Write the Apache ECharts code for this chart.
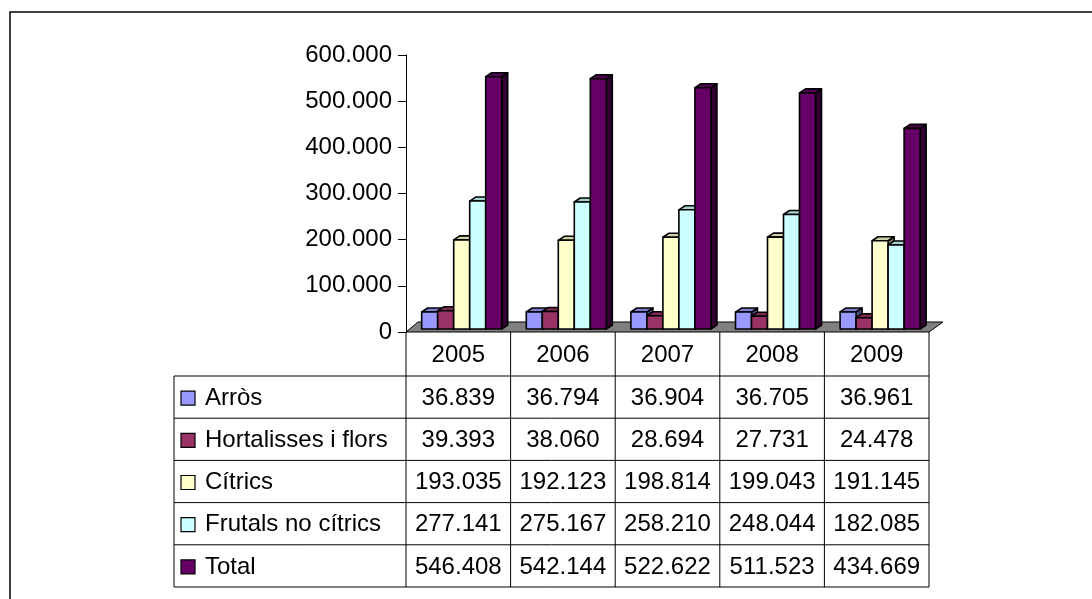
<!DOCTYPE html>
<html>
<head>
<meta charset="utf-8">
<script src="https://cdn.jsdelivr.net/npm/echarts@6/dist/echarts.min.js"></script>
<style>
html,body{margin:0;padding:0;background:#fff;}
#chart{width:1092px;height:599px;}
</style>
</head>
<body>
<div id="chart"></div>
<script>
// ---- data ----
var years = ['2005', '2006', '2007', '2008', '2009'];
var seriesNames = ['Arròs', 'Hortalisses i flors', 'Cítrics', 'Frutals no cítrics', 'Total'];
var arros = [36839, 36794, 36904, 36705, 36961];
var hortalisses = [39393, 38060, 28694, 27731, 24478];
var citrics = [193035, 192123, 198814, 199043, 191145];
var frutals = [277141, 275167, 258210, 248044, 182085];
var total = [546408, 542144, 522622, 511523, 434669];
var yTicks = [0, 100000, 200000, 300000, 400000, 500000, 600000];

var allValues = [arros, hortalisses, citrics, frutals, total];
var colors = ['#9999FF', '#993366', '#FFFFCC', '#CCFFFF', '#660066'];
var FONT = "'Liberation Sans', Arial, sans-serif";
var FS = 24;

function fmt(n) {
  return String(n).replace(/\B(?=(\d{3})+(?!\d))/g, '.');
}
function shade(hex, f) {
  var r = parseInt(hex.substr(1, 2), 16), g = parseInt(hex.substr(3, 2), 16), b = parseInt(hex.substr(5, 2), 16);
  function c(v) { v = Math.round(v * f); return ('0' + Math.max(0, Math.min(255, v)).toString(16)).slice(-2); }
  return '#' + c(r) + c(g) + c(b);
}

var chart = echarts.init(document.getElementById('chart'), null, { renderer: 'canvas' });

var headerH = 44, rowH = 42.2, tableLeft = 174;

function barRender(sIdx) {
  return function (params, api) {
    var cat = api.value(0), v = api.value(1);
    var base = api.coord([cat, 0]);
    var top = api.coord([cat, v]);
    var band = api.size([1, 0])[0];
    var bw = band * 0.153;
    var x0 = base[0] - band / 2 + band * 0.15 + sIdx * bw;
    var x1 = x0 + bw;
    var yb = base[1] - 3, yt = top[1] - 3;
    var dx = 6, dy = -4;
    var c = colors[sIdx];
    var st = { stroke: '#000', lineWidth: 1.6, lineJoin: 'round' };
    return {
      type: 'group',
      children: [
        { type: 'polygon', shape: { points: [[x1, yb], [x1 + dx, yb + dy], [x1 + dx, yt + dy], [x1, yt]] },
          style: Object.assign({ fill: shade(c, 0.5) }, st) },
        { type: 'polygon', shape: { points: [[x0, yt], [x1, yt], [x1 + dx, yt + dy], [x0 + dx, yt + dy]] },
          style: Object.assign({ fill: shade(c, 0.82) }, st) },
        { type: 'rect', shape: { x: x0, y: yt, width: bw, height: yb - yt },
          style: Object.assign({ fill: c }, st) }
      ]
    };
  };
}

function floorRender(params, api) {
  var band = api.size([1, 0])[0];
  var p0 = api.coord([0, 0]);
  var p1 = api.coord([years.length - 1, 0]);
  var xl = p0[0] - band / 2, xr = p1[0] + band / 2, y = p0[1];
  return {
    type: 'polygon',
    shape: { points: [[xl, y], [xr, y], [xr + 14, y - 10], [xl + 12, y - 10]] },
    style: { fill: '#808080', stroke: '#000', lineWidth: 1 }
  };
}

function tableColRender(params, api) {
  var i = params.dataIndex;
  var band = api.size([1, 0])[0];
  var p = api.coord([i, 0]);
  var xl = p[0] - band / 2, xr = p[0] + band / 2, cx = p[0], y0 = p[1];
  var children = [];
  var lineSt = { stroke: '#000', lineWidth: 1 };
  children.push({ type: 'line', shape: { x1: xr, y1: y0, x2: xr, y2: y0 + headerH + rowH * 5 }, style: lineSt });
  if (i === 0) {
    children.push({ type: 'line', shape: { x1: xl, y1: y0, x2: xl, y2: y0 + headerH + rowH * 5 }, style: lineSt });
  }
  children.push({ type: 'text', style: { text: years[i], x: cx, y: y0 + headerH / 2 + 1, align: 'center', verticalAlign: 'middle', font: FS + 'px ' + FONT, fill: '#000' } });
  for (var r = 0; r < allValues.length; r++) {
    var ry = y0 + headerH + rowH * r;
    children.push({ type: 'text', style: { text: fmt(allValues[r][i]), x: cx, y: ry + rowH / 2 + 1, align: 'center', verticalAlign: 'middle', font: FS + 'px ' + FONT, fill: '#000' } });
  }
  return { type: 'group', children: children };
}

function tableLabelRender(params, api) {
  var band = api.size([1, 0])[0];
  var p0 = api.coord([0, 0]);
  var p1 = api.coord([years.length - 1, 0]);
  var xr = p1[0] + band / 2, y0 = p0[1];
  var children = [];
  var lineSt = { stroke: '#000', lineWidth: 1 };
  for (var r = 0; r <= allValues.length; r++) {
    var ry = y0 + headerH + rowH * r;
    children.push({ type: 'line', shape: { x1: tableLeft, y1: ry, x2: xr, y2: ry }, style: lineSt });
  }
  children.push({ type: 'line', shape: { x1: tableLeft, y1: y0 + headerH, x2: tableLeft, y2: y0 + headerH + rowH * 5 }, style: lineSt });
  for (var k = 0; k < seriesNames.length; k++) {
    var cy = y0 + headerH + rowH * k + rowH / 2 + 1;
    children.push({ type: 'rect', shape: { x: tableLeft + 7, y: cy - 7, width: 14, height: 14 }, style: { fill: colors[k], stroke: '#000', lineWidth: 1.2 } });
    children.push({ type: 'text', style: { text: seriesNames[k], x: tableLeft + 31, y: cy, align: 'left', verticalAlign: 'middle', font: FS + 'px ' + FONT, fill: '#000' } });
  }
  return { type: 'group', children: children };
}

var series = [];
series.push({ type: 'custom', name: 'floor', renderItem: floorRender, data: [[0, 0]], z: 1, silent: true, clip: false });
for (var s = 0; s < seriesNames.length; s++) {
  series.push({
    type: 'custom', name: seriesNames[s], renderItem: barRender(s), z: 2 + s, clip: false,
    data: allValues[s].map(function (v, i) { return [i, v]; }),
    encode: { x: 0, y: 1 }
  });
}
series.push({ type: 'custom', name: 'tableCols', renderItem: tableColRender, data: years.map(function (y, i) { return [i, 0]; }), z: 10, clip: false, silent: true });
series.push({ type: 'custom', name: 'tableLabels', renderItem: tableLabelRender, data: [[0, 0]], z: 10, clip: false, silent: true });

var option = {
  animation: false,
  backgroundColor: '#fff',
  graphic: [{ type: 'rect', shape: { x: 10, y: 12, width: 1200, height: 700 }, style: { fill: 'none', stroke: '#000', lineWidth: 1.5 }, z: 100 }],
  grid: { left: 406, right: 163, top: 55, bottom: 267, containLabel: false },
  xAxis: {
    type: 'category', data: years,
    axisLine: { show: false }, axisTick: { show: false }, axisLabel: { show: false }, splitLine: { show: false }
  },
  yAxis: {
    type: 'value', min: yTicks[0], max: yTicks[yTicks.length - 1], interval: yTicks[1] - yTicks[0],
    axisLine: { show: true, lineStyle: { color: '#000', width: 1 } },
    axisTick: { show: true, length: 8, lineStyle: { color: '#000', width: 1 } },
    axisLabel: { margin: 14, fontSize: FS, fontFamily: FONT, color: '#000', formatter: function (v) { return fmt(v); } },
    splitLine: { show: false }
  },
  series: series
};
chart.setOption(option);
</script>
</body>
</html>
